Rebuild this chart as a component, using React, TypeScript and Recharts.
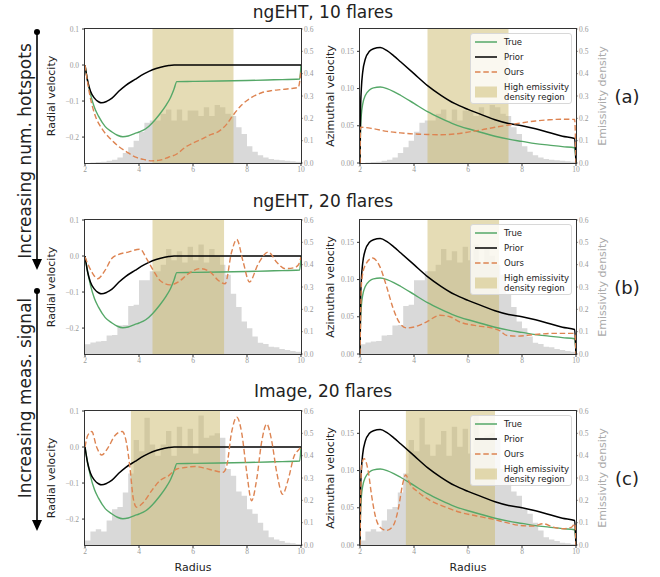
import { ComposedChart, Line, Area, XAxis, YAxis } from 'recharts';

// bin edges of the emissivity histogram (radius)
const BIN_EDGES = [
  2.0, 2.2, 2.4, 2.6, 2.8, 3.0, 3.2, 3.4, 3.6, 3.8, 4.0, 4.2, 4.4, 4.6, 4.8, 5.0,
  5.2, 5.4, 5.6, 5.8, 6.0, 6.2, 6.4, 6.6, 6.8, 7.0, 7.2, 7.4, 7.6, 7.8, 8.0, 8.2,
  8.4, 8.6, 8.8, 9.0, 9.2, 9.4, 9.6, 9.8, 10.0,
];

const HIST_A = [
  0.0, 0.002, 0.004, 0.006, 0.01, 0.015, 0.025, 0.045, 0.07, 0.1, 0.14, 0.18,
  0.19, 0.19, 0.22, 0.24, 0.19, 0.24, 0.19, 0.235, 0.235, 0.21, 0.25, 0.21, 0.26,
  0.25, 0.22, 0.21, 0.16, 0.13, 0.075, 0.05, 0.035, 0.025, 0.018, 0.015, 0.012,
  0.01, 0.008, 0.006,
];
const HIST_B = [
  0.044, 0.052, 0.056, 0.058, 0.083, 0.085, 0.128, 0.13, 0.215, 0.22, 0.33, 0.33,
  0.37, 0.37, 0.4, 0.47, 0.42, 0.46, 0.41, 0.48, 0.42, 0.49, 0.41, 0.47, 0.44,
  0.4, 0.355, 0.27, 0.21, 0.145, 0.115, 0.078, 0.05, 0.045, 0.033, 0.03, 0.022,
  0.018, 0.013, 0.01,
];
const HIST_C = [
  0.02, 0.06, 0.07, 0.06, 0.11, 0.16, 0.17, 0.235, 0.32, 0.47, 0.42, 0.57, 0.45,
  0.4, 0.45, 0.51, 0.4, 0.53, 0.44, 0.52, 0.41, 0.58, 0.48, 0.49, 0.5, 0.48,
  0.34, 0.31, 0.24, 0.22, 0.16, 0.14, 0.1, 0.065, 0.035, 0.025, 0.018, 0.01,
  0.008, 0.005,
];

const REGION_A = [4.5, 7.5];
const REGION_B = [4.5, 7.15];
const REGION_C = [3.7, 7.0];

// radial velocity
const RAD_TRUE_R = [
  2, 2.1, 2.2, 2.35, 2.5, 2.75, 3, 3.2, 3.4, 3.6, 3.85, 4, 4.25, 4.5, 4.75, 5,
  5.15, 5.3, 5.4, 6, 7, 8, 9, 9.95, 10,
];
const RAD_TRUE = [
  0, -0.045, -0.08, -0.118, -0.142, -0.171, -0.186, -0.195, -0.199, -0.197,
  -0.19, -0.186, -0.177, -0.16, -0.138, -0.112, -0.093, -0.066, -0.046, -0.0455,
  -0.0445, -0.043, -0.041, -0.039, 0,
];
const RAD_PRIOR_R = [
  2, 2.1, 2.2, 2.35, 2.5, 2.62, 2.8, 3, 3.25, 3.5, 3.85, 4.2, 4.5, 4.8, 5.1, 5.3,
  10,
];
const RAD_PRIOR = [
  0, -0.045, -0.072, -0.092, -0.102, -0.105, -0.101, -0.092, -0.073, -0.057,
  -0.04, -0.024, -0.013, -0.006, -0.0015, 0, 0,
];

const RAD_OURS_A_R = [
  2, 2.19, 2.37, 2.62, 2.93, 3.23, 3.54, 3.85, 4.16, 4.47, 4.78, 5.09, 5.4, 5.7,
  6.01, 6.32, 6.63, 6.94, 7.25, 7.49, 7.8, 8.17, 8.54, 8.91, 9.28, 9.65, 9.9, 10,
];
const RAD_OURS_A = [
  0, -0.088, -0.139, -0.176, -0.204, -0.225, -0.241, -0.255, -0.262, -0.266,
  -0.264, -0.256, -0.247, -0.229, -0.216, -0.206, -0.194, -0.185, -0.164, -0.139,
  -0.111, -0.09, -0.077, -0.071, -0.068, -0.065, -0.062, -0.014,
];
const RAD_OURS_B_R = [
  2, 2.25, 2.47, 2.74, 2.99, 3.23, 3.6, 4.04, 4.28, 4.53, 4.78, 5.15, 5.46, 5.83,
  6.26, 6.63, 6.94, 7.19, 7.43, 7.62, 7.86, 8.09, 8.42, 8.79, 9.1, 9.41, 9.72,
  9.9, 10,
];
const RAD_OURS_B = [
  -0.003, -0.044, -0.063, -0.04, -0.007, 0.004, 0.011, 0.019, -0.007, -0.04,
  -0.068, -0.08, -0.072, -0.049, -0.035, -0.044, -0.068, -0.077, 0.011, 0.046,
  -0.017, -0.072, -0.021, 0.011, -0.017, -0.035, -0.033, -0.025, -0.003,
];
const RAD_OURS_C_R = [
  2, 2.1, 2.25, 2.43, 2.62, 2.86, 3.11, 3.38, 3.54, 3.67, 3.79, 3.91, 4.16, 4.47,
  4.78, 5.09, 5.4, 5.7, 6.07, 6.44, 6.81, 7.12, 7.25, 7.43, 7.62, 7.8, 7.99, 8.17,
  8.36, 8.54, 8.73, 8.91, 9.1, 9.32, 9.53, 9.75, 9.9, 10,
];
const RAD_OURS_C = [
  0, 0.032, 0.043, 0, -0.022, -0.001, 0.032, 0.043, 0.01, -0.061, -0.144, -0.167,
  -0.154, -0.121, -0.093, -0.08, -0.061, -0.057, -0.054, -0.059, -0.066, -0.07,
  -0.052, 0.041, 0.083, 0.041, -0.07, -0.149, -0.089, 0.013, 0.064, 0.019, -0.07,
  -0.131, -0.089, -0.024, -0.009, 0,
];

// azimuthal velocity
const AZ_R = [
  2, 2.02, 2.05, 2.1, 2.2, 2.35, 2.5, 2.75, 3, 3.25, 3.5, 4, 4.5, 5, 5.5, 6, 6.5,
  7, 7.5, 8, 8.5, 9, 9.5, 9.95, 10,
];
const AZ_TRUE = [
  0, 0.045, 0.065, 0.079, 0.091, 0.098, 0.101, 0.102, 0.1, 0.096, 0.091, 0.08,
  0.069, 0.06, 0.052, 0.046, 0.041, 0.036, 0.032, 0.029, 0.026, 0.024, 0.022,
  0.0205, 0,
];
const AZ_PRIOR = [
  0, 0.07, 0.1, 0.122, 0.14, 0.15, 0.1535, 0.155, 0.151, 0.144, 0.136, 0.12,
  0.104, 0.091, 0.08, 0.072, 0.065, 0.058, 0.053, 0.05, 0.046, 0.041, 0.036,
  0.033, 0,
];
const AZ_OURS_A_R = [
  2, 2.02, 2.5, 3, 3.5, 4, 4.5, 5, 5.5, 6, 6.5, 7, 7.5, 8, 8.5, 9, 9.5, 9.95, 10,
];
const AZ_OURS_A = [
  0, 0.048, 0.046, 0.0425, 0.0405, 0.039, 0.0383, 0.038, 0.039, 0.0415, 0.0445,
  0.048, 0.051, 0.054, 0.0565, 0.058, 0.0588, 0.0585, 0,
];
const AZ_OURS_B_R = [
  2, 2.06, 2.19, 2.47, 2.74, 2.99, 3.23, 3.48, 3.73, 4.04, 4.47, 4.96, 5.33, 5.7,
  6.32, 6.94, 7.19, 7.43, 7.8, 8.42, 9.16, 9.96, 10,
];
const AZ_OURS_B = [
  0, 0.097, 0.119, 0.129, 0.117, 0.09, 0.061, 0.041, 0.035, 0.0366, 0.0433,
  0.052, 0.05, 0.043, 0.038, 0.0344, 0.031, 0.025, 0.024, 0.026, 0.0277, 0.0277,
  0,
];
const AZ_OURS_C_R = [
  2, 2.06, 2.15, 2.31, 2.43, 2.56, 2.74, 2.99, 3.23, 3.42, 3.58, 3.69, 3.85, 4.16,
  4.59, 5.09, 5.7, 6.32, 6.94, 7.43, 7.93, 8.42, 8.79, 9.16, 9.53, 9.84, 9.96, 10,
];
const AZ_OURS_C = [
  0, 0.107, 0.116, 0.098, 0.0665, 0.04, 0.024, 0.0196, 0.026, 0.0487, 0.082,
  0.094, 0.082, 0.071, 0.06, 0.052, 0.044, 0.039, 0.0344, 0.03, 0.0263, 0.0254,
  0.0286, 0.024, 0.0219, 0.024, 0.0286, 0,
];

const GREEN = '#55a868';
const ORANGE = '#dd8452';
const TAN = '#cbb96b';
const HIST_GRAY = '#d9d9d9';
const SANS = '"DejaVu Sans", sans-serif';
const SERIF = '"Liberation Serif", serif';

const PLOT_W = 216;
const PLOT_H = 134;
const LEFT_X = 85;
const RIGHT_X = 360;

const pts = (r: number[], v: number[]) => r.map((x, i) => ({ x, y: v[i] }));

const tickStyle = { fill: '#999', fontSize: 7.5, fontFamily: SERIF };

function radialTick(v: number) {
  if (Math.abs(v) < 1e-9) return '0.0';
  return (v < 0 ? '\u2212' : '') + Math.abs(v).toFixed(1);
}

interface PanelProps {
  left: number;
  top: number;
  kind: 'radial' | 'azimuthal';
  hist: number[];
  region: number[];
  oursR: number[];
  ours: number[];
}

function Panel({ left, top, kind, hist, region, oursR, ours }: PanelProps) {
  const histData = BIN_EDGES.map((x, i) => ({
    x,
    y: hist[Math.min(i, hist.length - 1)],
  }));
  const regionData = region.map((x) => ({ x, y: 0.6 }));
  const radial = kind === 'radial';
  const trueData = radial ? pts(RAD_TRUE_R, RAD_TRUE) : pts(AZ_R, AZ_TRUE);
  const priorData = radial ? pts(RAD_PRIOR_R, RAD_PRIOR) : pts(AZ_R, AZ_PRIOR);
  const leftW = 40;
  const rightW = 30;

  return (
    <div
      style={{
        position: 'absolute',
        left: left - leftW,
        top: top - 4,
      }}
    >
      <ComposedChart
        width={leftW + PLOT_W + rightW}
        height={PLOT_H + 4 + 14}
        margin={{ top: 4, right: 0, bottom: 0, left: 0 }}
      >
        <XAxis
          type="number"
          dataKey="x"
          domain={[2, 10]}
          ticks={[2, 4, 6, 8, 10]}
          allowDataOverflow
          axisLine={false}
          tickLine={{ stroke: '#333' }}
          tickSize={3}
          tickMargin={1}
          tick={tickStyle}
          height={14}
        />
        <YAxis
          yAxisId="left"
          orientation="left"
          width={leftW}
          type="number"
          domain={radial ? [-0.272, 0.1] : [0, 0.18]}
          ticks={radial ? [-0.2, -0.1, 0, 0.1] : [0, 0.05, 0.1, 0.15]}
          allowDataOverflow
          axisLine={false}
          tickLine={{ stroke: '#333' }}
          tickSize={3}
          tickMargin={3}
          tick={tickStyle}
          tickFormatter={(v: number) => (radial ? radialTick(v) : v.toFixed(2))}
        />
        <YAxis
          yAxisId="right"
          orientation="right"
          width={rightW}
          type="number"
          domain={[0, 0.6]}
          ticks={[0, 0.1, 0.2, 0.3, 0.4, 0.5, 0.6]}
          allowDataOverflow
          axisLine={false}
          tickLine={{ stroke: '#999' }}
          tickSize={2}
          tickMargin={1}
          tick={tickStyle}
          tickFormatter={(v: number) => v.toFixed(1)}
        />
        <Area
          yAxisId="right"
          data={histData}
          dataKey="y"
          type="stepAfter"
          fill={HIST_GRAY}
          fillOpacity={1}
          stroke="none"
          isAnimationActive={false}
        />
        <Area
          yAxisId="right"
          data={regionData}
          dataKey="y"
          type="linear"
          fill={TAN}
          fillOpacity={0.5}
          stroke="none"
          isAnimationActive={false}
        />
        <Line
          yAxisId="left"
          data={trueData}
          dataKey="y"
          type="monotone"
          stroke={GREEN}
          strokeWidth={1.4}
          dot={false}
          isAnimationActive={false}
        />
        <Line
          yAxisId="left"
          data={priorData}
          dataKey="y"
          type="monotone"
          stroke="#000"
          strokeWidth={1.5}
          dot={false}
          isAnimationActive={false}
        />
        <Line
          yAxisId="left"
          data={pts(oursR, ours)}
          dataKey="y"
          type="monotone"
          stroke={ORANGE}
          strokeWidth={1.4}
          strokeDasharray="5.5 2.8"
          dot={false}
          isAnimationActive={false}
        />
      </ComposedChart>
      <div
        style={{
          position: 'absolute',
          left: leftW - 0.75,
          top: 4 - 0.75,
          width: PLOT_W + 1.5,
          height: PLOT_H + 1.5,
          border: '1.5px solid #333',
          boxSizing: 'border-box',
        }}
      />
    </div>
  );
}

function LegendBox({ right, top }: { right: number; top: number }) {
  const txt = { fontSize: 8.5, fontFamily: SANS, fill: '#222' };
  return (
    <svg
      style={{ position: 'absolute', left: right - 102, top }}
      width={102}
      height={71}
    >
      <rect
        x={0.5}
        y={0.5}
        width={101}
        height={70}
        rx={2.5}
        fill="#fff"
        fillOpacity={0.8}
        stroke="#d8d8d8"
      />
      <line x1={5} x2={27} y1={9} y2={9} stroke={GREEN} strokeWidth={1.5} />
      <text x={34} y={11.5} {...txt}>True</text>
      <line x1={5} x2={27} y1={24} y2={24} stroke="#000" strokeWidth={1.5} />
      <text x={34} y={26.5} {...txt}>Prior</text>
      <line
        x1={5}
        x2={27}
        y1={39}
        y2={39}
        stroke={ORANGE}
        strokeWidth={1.5}
        strokeDasharray="5.5 2.8"
      />
      <text x={34} y={41.5} {...txt}>Ours</text>
      <rect x={5} y={53.5} width={22} height={11} fill={TAN} fillOpacity={0.5} />
      <text x={34} y={57.3} {...txt}>High emissivity</text>
      <text x={34} y={67.3} {...txt}>density region</text>
    </svg>
  );
}

function Label({
  x,
  y,
  text,
  size,
  color = '#222',
  rotate = false,
}: {
  x: number;
  y: number;
  text: string;
  size: number;
  color?: string;
  rotate?: boolean;
}) {
  return (
    <div
      style={{
        position: 'absolute',
        left: x,
        top: y,
        transform: `translate(-50%, -50%)${rotate ? ' rotate(-90deg)' : ''}`,
        whiteSpace: 'nowrap',
        fontSize: size,
        fontFamily: SANS,
        color,
        lineHeight: 1,
      }}
    >
      {text}
    </div>
  );
}

const ROWS = [
  {
    title: 'ngEHT, 10 flares',
    tag: '(a)',
    titleY: 12,
    top: 29,
    hist: HIST_A,
    region: REGION_A,
    radR: RAD_OURS_A_R,
    rad: RAD_OURS_A,
    azR: AZ_OURS_A_R,
    az: AZ_OURS_A,
  },
  {
    title: 'ngEHT, 20 flares',
    tag: '(b)',
    titleY: 201,
    top: 220,
    hist: HIST_B,
    region: REGION_B,
    radR: RAD_OURS_B_R,
    rad: RAD_OURS_B,
    azR: AZ_OURS_B_R,
    az: AZ_OURS_B,
  },
  {
    title: 'Image, 20 flares',
    tag: '(c)',
    titleY: 391,
    top: 411,
    hist: HIST_C,
    region: REGION_C,
    radR: RAD_OURS_C_R,
    rad: RAD_OURS_C,
    azR: AZ_OURS_C_R,
    az: AZ_OURS_C,
  },
];

export default function App() {
  return (
    <div
      style={{
        position: 'absolute',
        left: 0,
        top: 0,
        width: 660,
        height: 577,
        background: '#fff',
        overflow: 'hidden',
      }}
    >
      {ROWS.map((row) => (
        <div key={row.tag}>
          <Panel
            left={LEFT_X}
            top={row.top}
            kind="radial"
            hist={row.hist}
            region={row.region}
            oursR={row.radR}
            ours={row.rad}
          />
          <Panel
            left={RIGHT_X}
            top={row.top}
            kind="azimuthal"
            hist={row.hist}
            region={row.region}
            oursR={row.azR}
            ours={row.az}
          />
          <LegendBox right={RIGHT_X + PLOT_W - 4} top={row.top + 4} />
          <Label x={323} y={row.titleY} text={row.title} size={17} />
          <Label x={627} y={row.top + 68} text={row.tag} size={18} />
          <Label x={51} y={row.top + 67} text="Radial velocity" size={11} rotate />
          <Label x={330} y={row.top + 67} text="Azimuthal velocity" size={11} rotate />
          <Label
            x={602}
            y={row.top + 67}
            text="Emissivity density"
            size={11}
            color="#aaa"
            rotate
          />
        </div>
      ))}
      <Label x={193} y={567} text="Radius" size={11} />
      <Label x={468} y={567} text="Radius" size={11} />

      <svg
        style={{ position: 'absolute', left: 0, top: 0 }}
        width={60}
        height={577}
      >
        <circle cx={37} cy={32} r={3} fill="#000" />
        <line x1={37} y1={32} x2={37} y2={260} stroke="#000" strokeWidth={1.6} />
        <polygon points="32,259 42,259 37,270" fill="#000" />
        <circle cx={37} cy={291} r={3} fill="#000" />
        <line x1={37} y1={291} x2={37} y2={521} stroke="#000" strokeWidth={1.6} />
        <polygon points="32,520 42,520 37,531" fill="#000" />
      </svg>
      <Label x={25} y={151} text="Increasing num. hotspots" size={17} rotate />
      <Label x={25} y={398} text="Increasing meas. signal" size={17} rotate />
    </div>
  );
}
